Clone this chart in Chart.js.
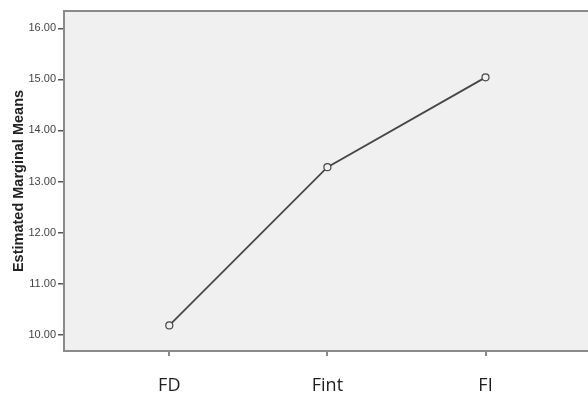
<!DOCTYPE html>
<html>
<head>
<meta charset="utf-8">
<script src="https://cdn.jsdelivr.net/npm/chart.js@4.4.1/dist/chart.umd.min.js"></script>
<style>
  html, body { margin: 0; padding: 0; background: #fff; overflow: hidden; }
  #wrap { width: 596px; height: 393px; }
</style>
</head>
<body>
<div id="wrap"><canvas id="chart"></canvas></div>
<script>
// data
const categories = ["FD", "Fint", "FI"];
const means = [10.18, 13.28, 15.04];
const yTicks = [10, 11, 12, 13, 14, 15, 16];

// plot background + top border
const plotFrame = {
  id: "plotFrame",
  beforeDraw(chart) {
    const { ctx, chartArea: a } = chart;
    ctx.save();
    ctx.fillStyle = "#f0f0f0";
    ctx.fillRect(a.left, a.top, a.right - a.left, a.bottom - a.top);
    ctx.restore();
  },
  afterDraw(chart) {
    const { ctx, chartArea: a } = chart;
    ctx.save();
    ctx.strokeStyle = "#8a8a8a";
    ctx.lineWidth = 2;
    ctx.beginPath();
    ctx.moveTo(a.left, a.top);
    ctx.lineTo(a.right, a.top);
    ctx.stroke();
    ctx.restore();
  }
};

const ctx = document.getElementById("chart").getContext("2d");
new Chart(ctx, {
  type: "line",
  data: {
    datasets: [{
      data: means.map((v, i) => ({ x: i, y: v })),
      borderColor: "#474747",
      borderWidth: 1.8,
      pointRadius: 3.5,
      pointBorderWidth: 1.2,
      pointBorderColor: "#474747",
      pointBackgroundColor: "#f0f0f0",
      tension: 0
    }]
  },
  options: {
    responsive: true,
    maintainAspectRatio: false,
    animation: false,
    layout: { padding: { top: 11, left: 0, right: 0, bottom: 0 } },
    plugins: { legend: { display: false }, tooltip: { enabled: false } },
    scales: {
      x: {
        type: "linear",
        min: -0.666,
        max: 2.666,
        afterBuildTicks: (s) => { s.ticks = categories.map((c, i) => ({ value: i })); },
        afterFit: (s) => { s.height = 42; },
        grid: { drawOnChartArea: false, drawTicks: true, tickLength: 5, color: "#8a8a8a", lineWidth: 2 },
        border: { display: true, color: "#8a8a8a", width: 2 },
        ticks: {
          callback: (v) => categories[v],
          padding: 19,
          color: "#1e1e1e",
          font: { family: "'Open Sans', 'Noto Sans', sans-serif", size: 18 },
          maxRotation: 0,
          autoSkip: false
        }
      },
      y: {
        min: 9.68,
        max: 16.34,
        afterBuildTicks: (s) => { s.ticks = yTicks.map(v => ({ value: v })); },
        afterFit: (s) => { s.width = 64; },
        grid: { drawOnChartArea: false, drawTicks: true, tickLength: 6, color: "#555", lineWidth: 1.5 },
        border: { display: true, color: "#8a8a8a", width: 2 },
        ticks: {
          callback: (v) => v.toFixed(2),
          padding: 2,
          color: "#444",
          font: { family: "'Liberation Sans', Arial, sans-serif", size: 11 }
        },
        title: {
          display: true,
          text: "Estimated Marginal Means",
          color: "#222",
          padding: { top: 10, bottom: 0 },
          font: { family: "'Liberation Sans', Arial, sans-serif", size: 14.5, weight: "bold" }
        }
      }
    }
  },
  plugins: [plotFrame]
});
</script>
</body>
</html>
